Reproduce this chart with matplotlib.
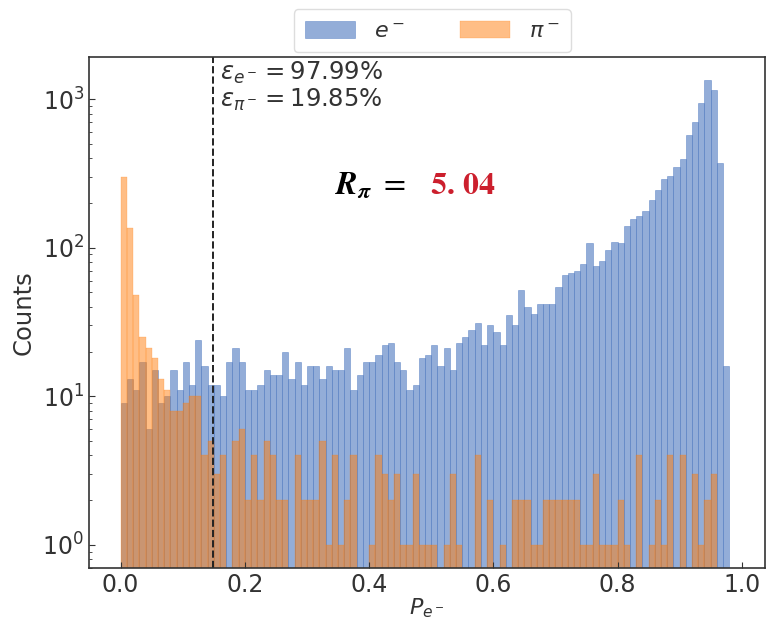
import numpy as np
import matplotlib.pyplot as plt

# counts per bin of width 0.01, bins 0.00-0.98
electron_counts = [9, 13, 11, 17, 6, 15, 9, 10, 15, 11, 17, 12, 24, 16, 12, 12, 10,
                   17, 21, 17, 11, 11, 12, 15, 14, 14, 20, 13, 17, 12, 16, 16, 13, 16,
                   15, 15, 21, 11, 14, 17, 17, 19, 22, 23, 17, 15, 11, 12, 18, 19, 22,
                   16, 21, 15, 23, 25, 28, 31, 22, 30, 27, 22, 35, 30, 52, 40, 36,
                   42, 42, 42, 54, 65, 68, 70, 78, 107, 75, 81, 96, 110, 108, 139, 156,
                   164, 176, 211, 244, 289, 306, 350, 396, 572, 700, 944, 1345, 1148, 369, 16]
pion_counts = [300, 135, 48, 25, 21, 18, 13, 11, 8, 8, 9, 10, 10, 4, 5, 3, 4,
               0, 5, 6, 2, 4, 2, 5, 4, 2, 2, 0, 4, 2, 2, 2, 5, 1,
               4, 1, 2, 4, 0, 0, 1, 4, 3, 2, 3, 1, 1, 3, 1, 1, 1,
               0, 1, 3, 1, 0, 0, 4, 0, 2, 0, 1, 0, 2, 2, 2, 1, 1,
               2, 2, 2, 2, 2, 2, 1, 1, 3, 1, 1, 1, 2, 1, 0,
               4, 0, 1, 2, 1, 4, 0, 4, 0, 3, 1, 2, 3, 0, 0]
bin_edges = np.linspace(0, 0.98, 99)
centers = (bin_edges[:-1] + bin_edges[1:]) / 2
threshold = 0.149
eff_e = 97.99
eff_pi = 19.85
rejection = '5.\\,04'

plt.rcParams['text.color'] = '#333333'
plt.rcParams['axes.labelcolor'] = '#333333'
plt.rcParams['xtick.color'] = '#333333'
plt.rcParams['ytick.color'] = '#333333'

fig = plt.figure(figsize=(7.74, 6.22), dpi=100)
ax = fig.add_axes([0.115, 0.087, 0.873, 0.821])

ax.hist(centers, bins=bin_edges, weights=electron_counts, color='#4b77be', alpha=0.6,
        edgecolor='#4b77be', linewidth=0.5, label=r'$e^-$')
ax.hist(centers, bins=bin_edges, weights=pion_counts, color='#ff7f0e', alpha=0.5,
        edgecolor='#ff7f0e', linewidth=0.3, label=r'$\pi^-$')
ax.axvline(threshold, color='#222222', linestyle='--', linewidth=1.4)

ax.set_yscale('log')
ax.set_xlim(-0.051, 1.037)
ax.set_ylim(0.7, 1914)
ax.set_xticks([0.0, 0.2, 0.4, 0.6, 0.8, 1.0])
ax.tick_params(axis='both', which='both', direction='in', labelsize=17)
ax.tick_params(axis='both', which='major', length=4)
ax.tick_params(axis='both', which='minor', length=2.5)
for s in ax.spines.values():
    s.set_color('#333333')
    s.set_linewidth(1.2)

ax.set_xlabel(r'$P_{e^-}$', fontsize=16, labelpad=0)
ax.set_ylabel('Counts', fontsize=17.5, labelpad=5)

ax.text(0.194, 0.969, r'$\varepsilon_{e^-} = %.2f\%%$' % eff_e, transform=ax.transAxes,
        fontsize=17.5, va='center')
ax.text(0.194, 0.916, r'$\varepsilon_{\pi^-} = %.2f\%%$' % eff_pi, transform=ax.transAxes,
        fontsize=17.5, va='center')

ax.text(0.364, 0.748, r'$\mathbfit{R}_{\mathbfit{\pi}}\ =$', transform=ax.transAxes,
        fontsize=23, va='center', color='black', math_fontfamily='stix')
ax.text(0.504, 0.748, r'$\mathbf{%s}$' % rejection, transform=ax.transAxes,
        fontsize=23, va='center', color='#cc1f2d', math_fontfamily='stix')

leg = ax.legend(loc='lower center', bbox_to_anchor=(0.508, 1.0098), borderaxespad=0,
                ncol=2, fontsize=16, handlelength=2.25, handleheight=0.85,
                handletextpad=0.85, columnspacing=2.5, borderpad=0.5,
                fancybox=True, framealpha=1, edgecolor='#dddddd')

fig.savefig('out.png', dpi=100)
